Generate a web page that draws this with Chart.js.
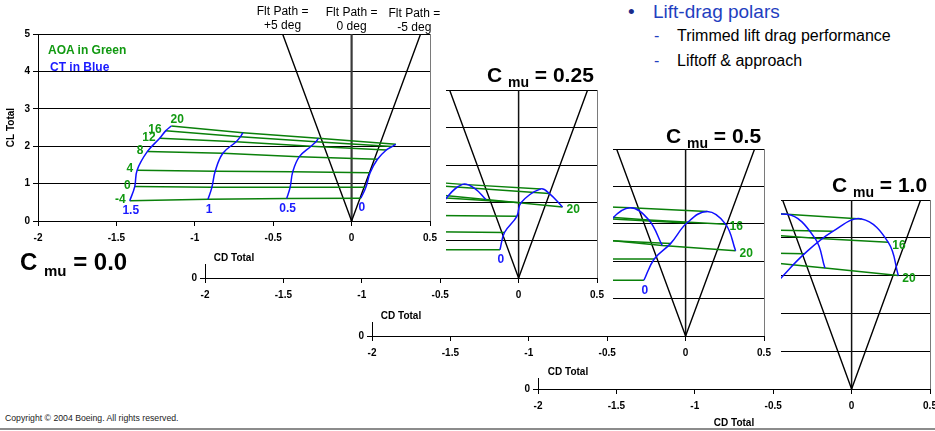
<!DOCTYPE html>
<html>
<head>
<meta charset="utf-8">
<script src="https://cdn.jsdelivr.net/npm/chart.js@4.4.1/dist/chart.umd.min.js"></script>
<style>
  html, body { margin: 0; padding: 0; background: #fff; overflow: hidden; }
  body { width: 935px; height: 431px; position: relative; font-family: "Liberation Sans", Arial, sans-serif; }
  canvas.panel { position: absolute; background: #fff; }
  .txt { position: absolute; white-space: nowrap; z-index: 10; }
  .title { font-weight: bold; font-size: 21px; line-height: 21px; color: #000; }
  .title sub { font-size: 14px; vertical-align: -5px; line-height: 0; }
  .title.big { font-size: 24px; line-height: 24px; }
  .title.big sub { font-size: 15px; vertical-align: -6px; }
  .legend { font-weight: bold; font-size: 12px; line-height: 14px; }
  .bullet { font-size: 19px; line-height: 22px; color: #1f40c0; }
  .sub { font-size: 16px; line-height: 18px; color: #000; }
  .dash { color: #1f40c0; }
  .copy { font-size: 8.7px; line-height: 10px; color: #222; }
  .rule { position: absolute; left: 0; top: 428px; width: 935px; height: 2px; background: #8c8c8c; z-index: 10; }
</style>
</head>
<body>
<div class="txt title big" style="left:20px; top:250px">C <sub>mu</sub> = 0.0</div>
<div class="txt title" style="left:487px; top:64px">C <sub>mu</sub> = 0.25</div>
<div class="txt title" style="left:666px; top:125px">C <sub>mu</sub> = 0.5</div>
<div class="txt title" style="left:832px; top:174px">C <sub>mu</sub> = 1.0</div>
<div class="txt legend" style="left:48px; top:43px; color:#119911">AOA in Green</div>
<div class="txt legend" style="left:50px; top:60px; color:#1a1aff">CT in Blue</div>
<div class="txt bullet" style="left:628px; top:1px; color:#1a2a8a">&bull;</div>
<div class="txt bullet" style="left:653px; top:1px">Lift-drag polars</div>
<div class="txt sub" style="left:654px; top:27px"><span class="dash">-</span></div>
<div class="txt sub" style="left:677px; top:27px">Trimmed lift drag performance</div>
<div class="txt sub" style="left:654px; top:52px"><span class="dash">-</span></div>
<div class="txt sub" style="left:677px; top:52px">Liftoff &amp; approach</div>
<div class="txt copy" style="left:5px; top:413px">Copyright &copy; 2004 Boeing. All rights reserved.</div>
<div class="rule"></div>

<script>
// Grid of the polars: rows are CT = 1.5, 1, 0.5, 0; columns are AOA
const aoaDeg = [-4, 0, 4, 8, 12, 16, 20];
const ctLevels = ['1.5', '1', '0.5', '0'];

// C mu = 0.0
const cd00 = [
  [-1.415, -1.383, -1.368, -1.302, -1.224, -1.186, -1.150],
  [-0.916, -0.891, -0.870, -0.821, -0.736, -0.710, -0.694],
  [-0.414, -0.392, -0.375, -0.333, -0.259, -0.227, -0.212],
  [0.059, 0.091, 0.118, 0.165, 0.222, 0.258, 0.282]
];
const cl00 = [
  [0.54, 0.92, 1.36, 1.86, 2.21, 2.41, 2.54],
  [0.58, 0.90, 1.33, 1.81, 2.12, 2.25, 2.36],
  [0.60, 0.90, 1.32, 1.72, 2.00, 2.12, 2.21],
  [0.61, 0.90, 1.29, 1.65, 1.90, 1.99, 2.05]
];

// C mu = 0.25
const cd025 = [
  [-1.57, -1.55, -1.52, -1.46, -1.37, -1.30, -1.22],
  [-1.10, -1.08, -1.05, -0.98, -0.88, -0.81, -0.73],
  [-0.59, -0.56, -0.53, -0.46, -0.357, -0.283, -0.209],
  [-0.119, -0.090, -0.011, 0.015, 0.142, 0.195, 0.280]
];
const cl025 = [
  [0.74, 1.23, 1.69, 2.22, 2.72, 2.62, 2.40],
  [0.74, 1.23, 1.68, 2.18, 2.65, 2.54, 2.30],
  [0.75, 1.23, 1.66, 2.13, 2.49, 2.39, 2.09],
  [0.75, 1.21, 1.64, 2.00, 2.37, 2.25, 1.89]
];

// C mu = 0.5
const cd05 = [
  [-1.58, -1.54, -1.50, -1.43, -1.32, -1.20, -1.12],
  [-1.10, -1.06, -1.02, -0.95, -0.84, -0.72, -0.64],
  [-0.62, -0.58, -0.54, -0.47, -0.351, -0.234, -0.149],
  [-0.266, -0.200, -0.096, 0.008, 0.138, 0.255, 0.319]
];
const cl05 = [
  [1.49, 2.06, 2.60, 3.25, 3.55, 3.35, 2.75],
  [1.49, 2.06, 2.58, 3.20, 3.50, 3.25, 2.62],
  [1.49, 2.06, 2.56, 3.13, 3.43, 3.10, 2.42],
  [1.49, 2.06, 2.47, 3.02, 3.33, 2.99, 2.28]
];

// C mu = 1.0
const cd10 = [
  [-1.75, -1.65, -1.55, -1.45, -1.35, -1.25, -1.15],
  [-1.40, -1.30, -1.20, -1.05, -0.90, -0.75, -0.70],
  [-1.05, -0.95, -0.85, -0.72, -0.414, -0.234, -0.170],
  [-0.62, -0.47, -0.30, -0.120, 0.064, 0.234, 0.298]
];
const cl10 = [
  [2.20, 2.90, 3.65, 4.25, 4.85, 4.30, 3.60],
  [2.20, 2.90, 3.64, 4.23, 4.75, 4.15, 3.42],
  [2.20, 2.90, 3.62, 4.22, 4.62, 3.99, 3.20],
  [2.20, 2.85, 3.58, 4.17, 4.50, 3.88, 3.00]
];

// Flight path lines (+5, 0, -5 deg) and the 0 deg line
const fltPathCd = [-0.44, 0, 0.44];
const fltPathCl = [5, 0, 5];
const zeroPathCd = [0, 0];
const zeroPathCl = [0, 5];
const fltPathNames = ['+5 deg', '0 deg', '-5 deg'];
const fltPathLabelCd = [-0.44, 0, 0.40];

// Axis ticks
const cdMin = -2, cdMax = 0.5, cdStep = 0.5;
const clMin = 0, clMax = 5, clStep = 1;

// Which AOA curves carry a green label, and where
const aoaLabelSides = [
  ['left', 'left', 'left', 'left', 'left', 'left', 'top'],
  [null, null, null, null, null, null, 'right'],
  [null, null, null, null, null, 'right', 'right'],
  [null, null, null, null, null, 'right', 'right']
];

const panelData = [[cd00, cl00], [cd025, cl025], [cd05, cl05], [cd10, cl10]];

// Layout of the four stacked chart pictures (pixels)
const panelLayout = [
  { x: 0, y: 0, w: 446, h: 264, padTop: 34, padRight: 16, yW: 38, xH: 43, z: 4 },
  { x: 160, y: 55, w: 453, h: 267, padTop: 35, padRight: 16, yW: 45, xH: 44, z: 3 },
  { x: 327, y: 110, w: 454, h: 268, padTop: 39, padRight: 17, yW: 45, xH: 42, z: 2 },
  { x: 493, y: 160, w: 452, h: 269, padTop: 40, padRight: 15, yW: 45, xH: 40, z: 1 }
];

const fontFam = "'Liberation Sans', Arial, Helvetica, sans-serif";
const GREEN_LINE = '#0a800a';
const GREEN_TEXT = '#119911';
const BLUE_LINE = '#1010ff';
const BLUE_TEXT = '#1a1aff';

// Draws the right border, the AOA / CT labels and the flight path captions
const polarDecor = {
  id: 'polarDecor',
  afterDatasetsDraw(chart, args, opts) {
    const { ctx, chartArea: a, scales: { x, y } } = chart;
    ctx.save();
    ctx.strokeStyle = '#7a7a7a';
    ctx.lineWidth = 1;
    ctx.beginPath();
    ctx.moveTo(Math.round(a.right) + 0.5, a.top);
    ctx.lineTo(Math.round(a.right) + 0.5, a.bottom);
    ctx.stroke();

    ctx.font = 'bold 12px ' + fontFam;
    ctx.textBaseline = 'middle';
    const cd = opts.cd, cl = opts.cl;

    // green AOA labels
    opts.sides.forEach((side, j) => {
      if (!side) return;
      ctx.fillStyle = GREEN_TEXT;
      if (side === 'left') {
        ctx.textAlign = 'right';
        ctx.fillText(String(aoaDeg[j]), x.getPixelForValue(cd[0][j]) - 4, y.getPixelForValue(cl[0][j]) - 1);
      } else if (side === 'top') {
        ctx.textAlign = 'center';
        ctx.fillText(String(aoaDeg[j]), x.getPixelForValue(cd[0][j]) + 6, y.getPixelForValue(cl[0][j]) - 6);
      } else {
        const last = cd.length - 1;
        ctx.textAlign = 'left';
        ctx.fillText(String(aoaDeg[j]), x.getPixelForValue(cd[last][j]) + 4, y.getPixelForValue(cl[last][j]) + 3);
      }
    });

    // blue CT labels under the lowest AOA point
    ctx.fillStyle = BLUE_TEXT;
    ctx.textAlign = 'center';
    ctLevels.forEach((ct, i) => {
      ctx.fillText(ct, x.getPixelForValue(cd[i][0]) + 1, y.getPixelForValue(cl[i][0]) + 10);
    });

    // flight path captions
    if (opts.pathCaptions) {
      ctx.font = '12px ' + fontFam;
      ctx.fillStyle = '#000';
      fltPathNames.forEach((name, k) => {
        const px = x.getPixelForValue(fltPathLabelCd[k]);
        const dy = k === 2 ? 2 : (k === 1 ? 1 : 0);
        ctx.fillText('Flt Path =', px, a.top - 22 + dy);
        ctx.fillText(name, px, a.top - 8 + dy);
      });
    }
    ctx.restore();
  }
};

function makePanel(k) {
  const box = panelLayout[k];
  const [cd, cl] = panelData[k];
  const canvas = document.createElement('canvas');
  canvas.className = 'panel';
  canvas.width = box.w;
  canvas.height = box.h;
  canvas.style.left = box.x + 'px';
  canvas.style.top = box.y + 'px';
  canvas.style.zIndex = box.z;
  document.body.appendChild(canvas);

  const datasets = [];
  // blue constant-CT curves (drawn on top)
  cd.forEach((row, i) => {
    datasets.push({
      data: row.map((v, j) => ({ x: v, y: cl[i][j] })),
      borderColor: BLUE_LINE, borderWidth: 1.5, tension: 0.4
    });
  });
  // green constant-AOA lines
  aoaDeg.forEach((a, j) => {
    datasets.push({
      data: cd.map((row, i) => ({ x: row[j], y: cl[i][j] })),
      borderColor: GREEN_LINE, borderWidth: 1.5, tension: 0
    });
  });
  // flight path V and 0 deg line
  datasets.push({
    data: fltPathCd.map((v, i) => ({ x: v, y: fltPathCl[i] })),
    borderColor: '#000', borderWidth: 1.4, tension: 0
  });
  datasets.push({
    data: zeroPathCd.map((v, i) => ({ x: v, y: zeroPathCl[i] })),
    borderColor: k === 0 ? '#3a3a3a' : '#111', borderWidth: k === 0 ? 2.2 : 1.5, tension: 0
  });
  datasets.forEach(d => { d.showLine = true; d.pointRadius = 0; d.fill = false; });

  const tickFont = { family: fontFam, size: 10, weight: 'bold' };

  new Chart(canvas, {
    type: 'scatter',
    data: { datasets },
    plugins: [polarDecor],
    options: {
      responsive: false,
      animation: false,
      devicePixelRatio: 1,
      events: [],
      layout: { padding: { left: 0, top: box.padTop, right: box.padRight, bottom: 0 } },
      plugins: {
        legend: { display: false },
        tooltip: { enabled: false },
        polarDecor: { cd, cl, sides: aoaLabelSides[k], pathCaptions: k === 0 }
      },
      scales: {
        x: {
          type: 'linear', min: cdMin, max: cdMax,
          afterFit: s => { s.height = box.xH; },
          ticks: { stepSize: cdStep, font: tickFont, color: '#000', padding: 6, maxRotation: 0, autoSkip: false,
                   callback: v => String(v) },
          grid: { drawOnChartArea: false, color: '#000', tickLength: 5 },
          border: { color: '#000', width: 1 },
          title: { display: true, text: 'CD Total', color: '#000', font: tickFont, padding: { top: 0, bottom: 0 } }
        },
        y: {
          type: 'linear', min: clMin, max: clMax,
          afterFit: s => { s.width = box.yW; },
          ticks: { stepSize: clStep, font: tickFont, color: '#000', padding: 3, callback: v => String(v) },
          grid: { color: '#000', lineWidth: 1, tickLength: 5 },
          border: { color: '#000', width: 1 },
          title: { display: true, text: 'CL Total', color: '#000', font: tickFont, padding: { top: 5, bottom: 0 } }
        }
      }
    }
  });
}

[0, 1, 2, 3].forEach(makePanel);
</script>
</body>
</html>
